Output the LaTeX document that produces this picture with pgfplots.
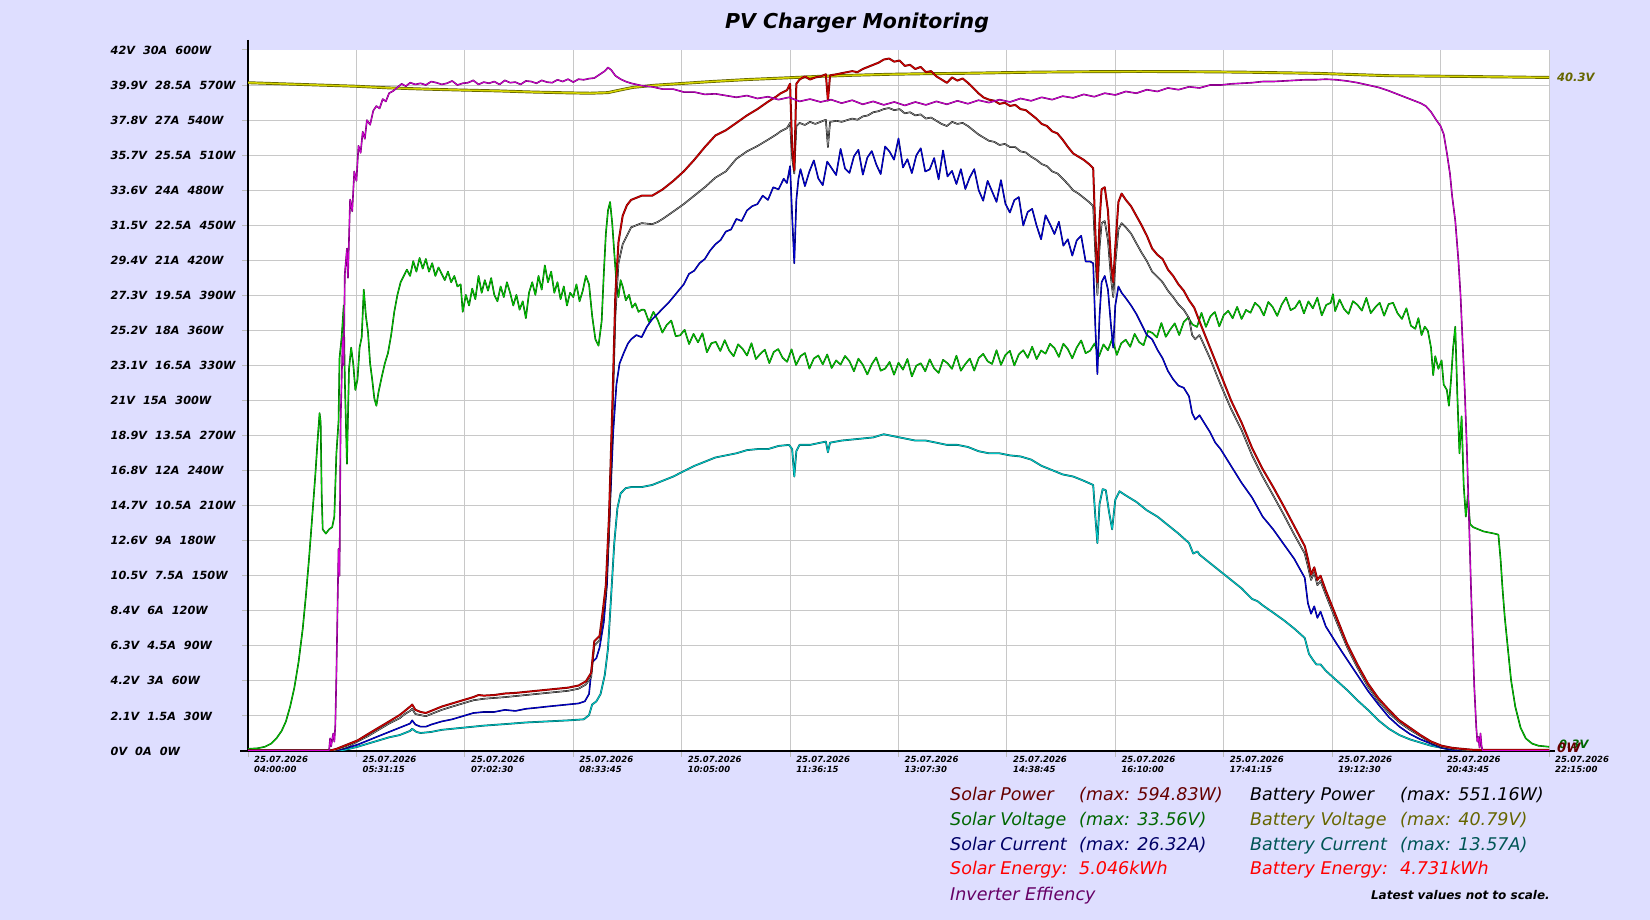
\documentclass[border=0pt]{standalone}
\usepackage{pgfplots}
\pgfplotsset{compat=1.18}
\usepackage{fontspec}
\setmainfont{DejaVu Sans}
\definecolor{bgc}{RGB}{222,222,255}
\definecolor{gridc}{RGB}{200,200,200}
\definecolor{tickc}{RGB}{185,185,185}
\definecolor{spE}{RGB}{110,0,0}\definecolor{spC}{RGB}{215,0,0}
\definecolor{bpE}{RGB}{0,0,0}\definecolor{bpC}{RGB}{150,150,150}
\definecolor{svE}{RGB}{0,90,0}\definecolor{svC}{RGB}{0,200,0}
\definecolor{bvE}{RGB}{90,90,0}\definecolor{bvC}{RGB}{215,215,0}
\definecolor{siE}{RGB}{0,0,100}\definecolor{siC}{RGB}{0,0,215}
\definecolor{biE}{RGB}{0,90,90}\definecolor{biC}{RGB}{0,200,200}
\definecolor{efE}{RGB}{100,0,100}\definecolor{efC}{RGB}{210,0,210}
\definecolor{tSP}{RGB}{102,0,0}
\definecolor{tSV}{RGB}{0,102,0}
\definecolor{tBV}{RGB}{102,102,0}
\definecolor{tSI}{RGB}{0,0,102}
\definecolor{tBI}{RGB}{0,85,85}
\definecolor{tEF}{RGB}{102,0,102}
\definecolor{tEN}{RGB}{255,0,0}
\newcommand{\yl}[3]{#1V\hspace{8pt}#2A\hspace{8pt}#3W}
\newcommand{\xl}[1]{25.07.2026\\#1}
\begin{document}
\begin{tikzpicture}
\useasboundingbox (0pt,0pt) rectangle (1650pt,920pt);
\fill[bgc] (0pt,0pt) rectangle (1650pt,920pt);
\begin{axis}[
  at={(248pt,169pt)}, anchor=south west, scale only axis,
  width=1301pt, height=701pt,
  xmin=4, xmax=22.25, ymin=0, ymax=600,
  axis background/.style={fill=white},
  axis line style={draw=none},
  clip mode=individual,
  grid=major, major grid style={gridc, line width=1pt},
  tick pos=left, tick align=outside, major tick length=6pt,
  tick style={tickc, line width=1pt},
  xtick={4,5.520833,7.041667,8.5625,10.083333,11.604167,13.125,14.645833,16.166667,17.6875,19.208333,20.729167,22.25},
  xticklabels={{\xl{04:00:00}},{\xl{05:31:15}},{\xl{07:02:30}},{\xl{08:33:45}},{\xl{10:05:00}},{\xl{11:36:15}},{\xl{13:07:30}},{\xl{14:38:45}},{\xl{16:10:00}},{\xl{17:41:15}},{\xl{19:12:30}},{\xl{20:43:45}},{\xl{22:15:00}}},
  ytick={0,30,...,570},
  yticklabels={{\yl{0}{0}{0}},{\yl{2.1}{1.5}{30}},{\yl{4.2}{3}{60}},{\yl{6.3}{4.5}{90}},{\yl{8.4}{6}{120}},{\yl{10.5}{7.5}{150}},{\yl{12.6}{9}{180}},{\yl{14.7}{10.5}{210}},{\yl{16.8}{12}{240}},{\yl{18.9}{13.5}{270}},{\yl{21}{15}{300}},{\yl{23.1}{16.5}{330}},{\yl{25.2}{18}{360}},{\yl{27.3}{19.5}{390}},{\yl{29.4}{21}{420}},{\yl{31.5}{22.5}{450}},{\yl{33.6}{24}{480}},{\yl{35.7}{25.5}{510}},{\yl{37.8}{27}{540}},{\yl{39.9}{28.5}{570}}},
  extra y ticks={600}, extra y tick labels={{\yl{42}{30}{600}}},
  extra y tick style={grid=none},
  yticklabel style={anchor=west, inner sep=0pt, xshift=-131.5pt, font=\fontsize{11.25}{12.5}\selectfont\bfseries\itshape},
  xticklabel style={anchor=north west, inner sep=0pt, xshift=6pt, yshift=1pt, align=left, font=\fontsize{8.5}{10}\selectfont\bfseries\itshape},
  every axis plot/.append style={line join=round, line cap=round},
]
% axis frame
\draw[line width=2.5pt, black] ([yshift=10pt]rel axis cs:0,1) -- (rel axis cs:0,0);
\draw[line width=2.5pt, black] ([xshift=-8pt]rel axis cs:0,0) -- ([xshift=6pt]rel axis cs:1,0);
\draw[line width=1pt, gridc] (rel axis cs:1,0) -- (rel axis cs:1,1);

% Battery Voltage
\addplot[draw=bvE, double=bvC, line width=0.7pt, double distance=1.5pt] coordinates {
(4.0,572) (4.5,571) (5.0,570) (5.5,569) (6.0,567.5) (6.5,566.5) (7.0,565.7) (7.5,565) (8.0,564) (8.5,563.3) (8.8,563) (9.05,563.5) (9.2,565.5) (9.4,568) (9.7,569.8) (10.0,571) (10.5,573) (11.0,574.7) (11.5,576) (12.0,577.4) (12.5,578.4) (13.0,579.2) (13.5,579.7) (14.0,580) (14.5,580.5) (15.0,581) (15.5,581.3) (16.0,581.5) (16.5,581.6) (17.0,581.5) (17.5,581.3) (18.0,581) (18.5,580.5) (19.0,580) (19.5,579) (20.0,578) (20.5,577.7) (21.0,577.4) (21.5,577) (22.25,576.5)
};

% Solar Voltage
\addplot[draw=svE, double=svC, line width=0.4pt, double distance=0.8pt] coordinates {
(4.0,1.8) (4.133,2.3) (4.236,3.6) (4.325,6.3) (4.399,10.8) (4.472,17.2) (4.532,25.3) (4.591,38.0) (4.650,54.2) (4.709,75.9) (4.768,104.8) (4.812,132.8) (4.856,164.5) (4.901,200.6) (4.945,236.7) (4.974,263.9) (5.004,289.2) (5.019,281.9) (5.034,218.7) (5.048,189.7) (5.093,186.1) (5.137,189.7) (5.181,191.6) (5.211,200.6) (5.240,254.8) (5.270,281.9) (5.284,336.1) (5.314,354.2) (5.343,381.3) (5.358,318.1) (5.388,245.8) (5.417,327.1) (5.447,345.2) (5.476,331.6) (5.506,309.0) (5.536,318.1) (5.565,345.2) (5.595,354.2) (5.624,394.9) (5.654,372.3) (5.683,358.7) (5.713,331.6) (5.742,318.1) (5.772,301.8) (5.801,295.5) (5.831,307.2) (5.875,319.9) (5.919,331.6) (5.964,340.7) (6.008,356.0) (6.052,375.9) (6.096,390.4) (6.141,401.2) (6.185,406.6) (6.229,412.0) (6.274,406.6) (6.318,419.3) (6.362,410.3) (6.407,422.0) (6.451,412.9) (6.495,421.1) (6.539,410.3) (6.584,417.5) (6.628,406.6) (6.672,413.9) (6.717,408.4) (6.761,403.0) (6.805,410.3) (6.850,401.2) (6.894,406.6) (6.938,397.6) (6.983,399.4) (7.012,375.9) (7.056,390.4) (7.101,381.3) (7.145,395.8) (7.189,386.7) (7.234,406.6) (7.278,392.2) (7.322,403.0) (7.367,394.0) (7.411,404.8) (7.455,390.4) (7.499,384.9) (7.544,397.6) (7.588,388.5) (7.632,401.2) (7.677,392.2) (7.721,381.3) (7.765,390.4) (7.810,377.7) (7.854,384.9) (7.898,370.5) (7.942,392.2) (7.987,401.2) (8.031,390.4) (8.075,406.6) (8.120,394.9) (8.164,415.6) (8.208,401.2) (8.253,410.3) (8.297,392.2) (8.341,401.2) (8.385,386.7) (8.430,397.6) (8.474,381.3) (8.518,392.2) (8.563,388.5) (8.607,399.4) (8.651,384.9) (8.696,394.0) (8.740,406.6) (8.784,399.4) (8.828,372.3) (8.873,352.4) (8.917,346.9) (8.961,367.8) (8.991,408.4) (9.020,442.8) (9.050,462.6) (9.079,469.9) (9.109,451.8) (9.138,426.5) (9.168,401.2) (9.197,388.5) (9.227,403.0) (9.256,397.6) (9.300,385.8) (9.345,390.4) (9.389,379.5) (9.433,383.1) (9.478,375.9) (9.522,377.7)
(9.5625,377.6) (9.625,367.3) (9.6875,375.9) (9.75,368.5) (9.8125,358.1) (9.875,364.8) (9.9375,368.4) (10.0,355)
(10.0625,355.8) (10.125,360.5) (10.1875,348.3) (10.25,357) (10.3125,349.8) (10.375,357.5) (10.4375,341.3) (10.5,349)
(10.5625,350.2) (10.625,342.4) (10.6875,351.6) (10.75,342.8) (10.8125,337.9) (10.875,348.1) (10.9375,344.3) (11.0,338.5)
(11.0625,349) (11.125,335.5) (11.1875,340) (11.25,343.5) (11.3125,332) (11.375,341.5) (11.4375,344) (11.5,336.5)
(11.5625,333.1) (11.625,343.8) (11.6875,330.4) (11.75,338) (11.8125,340.6) (11.875,327.3) (11.9375,335.9) (12.0,338.5)
(12.0625,330.9) (12.125,339.4) (12.1875,327.8) (12.25,334.3) (12.3125,330.7) (12.375,338.1) (12.4375,333.6) (12.5,325)
(12.5625,335.8) (12.625,330.5) (12.6875,322.3) (12.75,331) (12.8125,336.8) (12.875,325.5) (12.9375,327.3) (13.0,333)
(13.0625,322.1) (13.125,332.3) (13.1875,326.4) (13.25,335.5) (13.3125,320.6) (13.375,329.8) (13.4375,331.9) (13.5,325)
(13.5625,335.2) (13.625,327.4) (13.6875,323.6) (13.75,334.8) (13.8125,331.9) (13.875,327.1) (13.9375,338.3) (14.0,325.5)
(14.0625,331.2) (14.125,335.9) (14.1875,325.6) (14.25,336.3) (14.3125,339.9) (14.375,333.6) (14.4375,331.3) (14.5,343)
(14.5625,330.5) (14.625,339) (14.6875,342.5) (14.75,330) (14.8125,339.5) (14.875,343) (14.9375,336.5) (15.0,346)
(15.0625,335.4) (15.125,342.8) (15.1875,340.1) (15.25,348.5) (15.3125,344.9) (15.375,337.3) (15.4375,348.6) (15.5,344)
(15.5625,336.1) (15.625,345.3) (15.6875,351.4) (15.75,340.5) (15.8125,342.6) (15.875,348.8) (15.9375,337.9) (16.0,348)
(16.0625,343) (16.125,353) (16.1875,339) (16.25,349) (16.3125,352) (16.375,346) (16.4375,357) (16.5,350)
(16.5625,347.3) (16.625,359.5) (16.6875,357.8) (16.75,354) (16.8125,366.3) (16.875,354.5) (16.9375,360.8) (17.0,366)
(17.0625,356) (17.125,367) (17.1875,371) (17.25,365) (17.3125,363) (17.375,375) (17.4375,363) (17.5,372)
(17.5625,375.7) (17.625,363.4) (17.6875,373.1) (17.75,376.8) (17.8125,370.4) (17.875,380.1) (17.9375,369.8) (18.0,377.5)
(18.0625,375.1) (18.125,383.6) (18.1875,380.2) (18.25,372.8) (18.3125,384.3) (18.375,379.9) (18.4375,372.4) (18.5,382)
(18.5625,388.1) (18.625,377.3) (18.6875,379.4) (18.75,385.5) (18.8125,374.6) (18.875,384.8) (18.9375,378.9) (19.0,388)
(19.0625,372.9) (19.125,381.8) (19.1875,383.6) (19.22,391) (19.25,376.5) (19.3125,386.4) (19.375,378.3) (19.4375,374.1) (19.5,385)
(19.5625,381.9) (19.625,376.9) (19.6875,387.8) (19.75,374.8) (19.8125,379.7) (19.875,383.6) (19.9375,372.6) (20.0,382.5)
(20.0625,383.6) (20.125,374.7) (20.1875,369.8) (20.25,378.9) (20.3125,364)
(20.374,361.4) (20.418,370.5) (20.462,356.0) (20.507,363.2) (20.551,359.6) (20.595,345.2) (20.625,321.7) (20.654,337.9) (20.698,327.1) (20.743,334.3) (20.773,313.6) (20.817,309.0) (20.846,295.5) (20.876,318.1) (20.905,345.2) (20.935,363.2) (20.964,304.5) (20.994,254.8) (21.024,286.4) (21.053,227.7) (21.083,200.6) (21.112,218.7) (21.142,194.3) (21.186,191.6) (21.260,189.7) (21.334,187.9) (21.407,187.0) (21.481,186.1) (21.540,185.2) (21.570,164.5) (21.600,137.3) (21.629,114.8) (21.673,87.7) (21.718,60.5) (21.777,37.9) (21.851,19.9) (21.924,10.8) (22.013,6.3) (22.102,4.5) (22.25,3.6)
};

% Battery Current
\addplot[draw=biE, double=biC, line width=0.45pt, double distance=0.9pt] coordinates {
(4.0,0.3) (5.314,0.3) (5.536,3.6) (5.683,6.3) (5.831,9.0) (5.979,11.7) (6.126,13.6) (6.274,17.2) (6.303,19.0) (6.362,16.3) (6.421,15.4) (6.569,16.3) (6.717,18.1) (7.012,19.9) (7.307,21.7) (7.603,23.0) (7.898,24.4) (8.193,25.3) (8.489,26.2) (8.710,27.1) (8.784,30.7) (8.828,39.8) (8.887,42.5) (8.946,48.8) (9.005,65.1) (9.050,87.7) (9.094,132.8) (9.138,178.0) (9.182,207.8) (9.227,220.5) (9.300,225.0) (9.374,225.9) (9.522,225.9) (9.670,227.7) (9.817,231.3) (9.965,234.9) (10.113,239.5) (10.260,244.0) (10.408,247.6) (10.556,251.2) (10.703,253.0) (10.851,254.8) (10.999,257.5) (11.146,258.4) (11.294,258.4) (11.442,261.1) (11.589,262.0) (11.633,258.4) (11.663,234.9) (11.692,256.6) (11.737,262.0) (11.884,262.0) (12.032,263.9) (12.106,264.8) (12.135,255.7) (12.165,263.9) (12.327,265.7) (12.475,266.6) (12.623,267.5) (12.770,268.4) (12.918,271.1) (13.066,269.3) (13.213,267.5) (13.361,265.7) (13.509,265.7) (13.656,263.9) (13.804,262.0) (13.951,262.0) (14.099,260.2) (14.247,256.6) (14.394,254.8) (14.542,254.8) (14.690,253.0) (14.837,252.1) (14.985,249.4) (15.133,244.0) (15.280,240.4) (15.428,236.7) (15.576,234.9) (15.723,231.3) (15.856,227.7) (15.886,200.6) (15.915,178.0) (15.945,211.4) (15.989,224.1) (16.033,223.2) (16.077,205.1) (16.122,189.7) (16.166,215.0) (16.225,222.3) (16.314,218.7) (16.461,213.2) (16.609,206.0) (16.757,200.6) (16.904,193.4) (17.052,186.1) (17.200,178.0) (17.259,169.0) (17.318,170.8) (17.347,168.1) (17.495,160.8) (17.643,153.6) (17.790,146.4) (17.938,139.2) (18.085,130.1) (18.159,128.3) (18.233,124.7) (18.381,118.4) (18.528,112.0) (18.676,104.8) (18.824,96.7) (18.883,83.1) (18.942,77.7) (18.986,74.1) (19.045,74.1) (19.119,68.7) (19.267,60.5) (19.414,52.4) (19.562,43.4) (19.710,35.2) (19.857,26.2) (20.005,19.0) (20.152,13.6) (20.300,9.9) (20.448,7.2) (20.595,4.5) (20.743,2.7) (20.891,0.9) (21.038,0.3) (22.25,0.3)
};

% Solar Current
\addplot[draw=siE, double=siC, line width=0.4pt, double distance=0.8pt] coordinates {
(4.0,0.3) (5.240,0.3) (5.388,2.7) (5.536,5.4) (5.683,9.0) (5.831,12.7) (5.979,16.3) (6.126,19.9) (6.200,21.7) (6.274,23.5) (6.303,26.2) (6.348,22.6) (6.421,20.8) (6.495,20.8) (6.569,22.6) (6.717,25.3) (6.864,27.1) (7.012,29.8) (7.160,32.5) (7.307,33.4) (7.455,33.4) (7.603,35.2) (7.750,34.3) (7.898,36.1) (8.046,37.0) (8.193,38.0) (8.341,38.9) (8.489,39.8) (8.636,40.7) (8.725,42.5) (8.784,48.8) (8.828,75.9) (8.887,79.5) (8.932,88.6) (8.991,110.2) (9.035,141.9) (9.079,209.6) (9.123,272.9) (9.168,313.6) (9.212,331.6) (9.271,340.7) (9.330,348.8) (9.374,352.4) (9.448,356.0) (9.522,354.2) (9.596,363.2) (9.670,369.6) (9.744,374.1) (9.817,378.6) (9.891,383.1) (9.965,388.5) (10.039,394.0) (10.113,399.4) (10.186,408.4) (10.260,411.1) (10.334,417.5) (10.408,421.1) (10.482,428.3) (10.556,433.7) (10.629,437.3) (10.703,444.6) (10.777,446.4) (10.851,455.4) (10.925,453.6) (10.999,462.6) (11.072,466.3) (11.146,468.1) (11.220,475.3) (11.294,471.7) (11.368,482.5) (11.442,480.7) (11.515,489.8) (11.560,486.1) (11.604,500.6) (11.633,458.1) (11.663,417.5) (11.692,471.7) (11.722,489.8)
(11.75,498) (11.8125,483.5) (11.875,496) (11.9375,505.5) (12.0,490)
(12.0625,484.3) (12.125,504.5) (12.1875,498.8) (12.25,493) (12.3125,515.3) (12.375,498.5) (12.4375,494.8) (12.5,509)
(12.5625,514.6) (12.625,493.3) (12.6875,507.9) (12.75,513.5) (12.8125,502.1) (12.875,493.8) (12.9375,517.4) (13.0,513)
(13.0625,506.1) (13.125,524.3) (13.1875,499.4) (13.25,506.5) (13.3125,494.6) (13.375,509.8) (13.4375,515.9) (13.5,496)
(13.5625,497.8) (13.625,507.5) (13.6875,489.3) (13.75,514) (13.8125,491.8) (13.875,496.5) (13.9375,485.3) (14.0,498)
(14.0625,481) (14.125,491) (14.1875,498) (14.25,480) (14.3125,471) (14.375,488) (14.4375,479) (14.5,470)
(14.5625,488.6) (14.625,468.3) (14.6875,460.9) (14.75,471.5) (14.8125,474.1) (14.875,449.8) (14.9375,461.4) (15.0,464)
(15.0625,449.5) (15.125,438) (15.1875,458.5) (15.25,451) (15.3125,442.5) (15.375,453) (15.4375,432.5) (15.5,438)
(15.5625,424) (15.625,437) (15.6875,441) (15.75,419) (15.8125,419)
(15.856,417.5) (15.886,363.2) (15.915,322.6) (15.945,372.3) (15.974,401.2) (16.018,406.6) (16.063,394.9) (16.107,363.2) (16.137,345.2) (16.166,381.3) (16.210,397.6) (16.255,392.2) (16.314,387.6) (16.388,381.3) (16.461,374.1) (16.535,365.1) (16.609,356.0) (16.683,352.4) (16.757,343.4) (16.830,336.1) (16.904,325.3) (16.978,318.1) (17.052,312.7) (17.126,310.9) (17.200,303.6) (17.244,289.2) (17.288,283.7) (17.347,287.4) (17.421,280.1) (17.495,272.9) (17.569,263.9) (17.643,258.4) (17.790,244.0) (17.938,229.5) (18.085,216.9) (18.233,200.6) (18.381,189.7) (18.528,177.1) (18.676,164.5) (18.824,148.2) (18.868,126.5) (18.912,117.5) (18.957,123.8) (19.001,113.9) (19.045,119.3) (19.119,106.6) (19.267,92.2) (19.414,78.6) (19.562,65.1) (19.710,51.5) (19.857,39.8) (20.005,28.9) (20.152,20.8) (20.300,14.5) (20.448,9.9) (20.595,6.3) (20.743,2.7) (20.891,0.9) (21.038,0.5) (22.25,0.5)
};

% Battery Power
\addplot[draw=bpE, double=bpC, line width=0.45pt, double distance=0.7pt] coordinates {
(4.0,0.4) (5.211,0.4) (5.388,3.6) (5.536,8.1) (5.683,12.7) (5.831,18.1) (5.979,23.5) (6.126,28.0) (6.200,31.6) (6.274,34.3) (6.303,36.1) (6.348,31.6) (6.421,30.7) (6.495,29.8) (6.569,31.6) (6.717,35.2) (6.864,38.0) (7.012,40.7) (7.160,43.4) (7.307,44.7) (7.603,46.1) (7.898,47.9) (8.193,49.7) (8.489,51.5) (8.636,53.3) (8.740,56.9) (8.814,63.3) (8.858,90.4) (8.932,94.9) (8.976,114.8) (9.020,135.5) (9.064,187.0) (9.109,277.4) (9.153,372.3) (9.197,417.5) (9.256,433.7) (9.315,440.9) (9.374,448.2) (9.522,451.8) (9.670,450.9) (9.744,452.7) (9.817,455.4) (9.965,461.7) (10.113,468.1) (10.260,475.3) (10.408,482.5) (10.556,490.7) (10.703,496.1) (10.851,506.9) (10.999,513.2) (11.146,517.8) (11.294,523.2) (11.412,527.7) (11.471,530.4) (11.560,533.1) (11.604,537.6) (11.633,507.8) (11.663,494.3) (11.678,516.9) (11.692,534.9) (11.737,537.6) (11.811,535.8) (11.884,538.5) (11.958,536.7) (12.032,538.5) (12.106,540.3) (12.135,516.9) (12.165,538.5) (12.254,539.4) (12.327,538.5) (12.475,541.3) (12.549,540.3) (12.623,543.1) (12.696,544.0) (12.770,546.7) (12.844,547.6) (12.918,549.4) (12.992,550.3) (13.066,548.5) (13.140,549.4) (13.213,545.8) (13.287,546.7) (13.361,544.0) (13.435,544.9) (13.509,541.3) (13.582,542.2) (13.656,539.4) (13.730,536.7) (13.804,534.9) (13.877,538.5) (13.951,536.7) (14.025,537.6) (14.099,534.9) (14.173,531.3) (14.247,527.7) (14.320,525.0) (14.394,522.3) (14.468,521.4) (14.542,518.7) (14.616,519.6) (14.690,516.9) (14.763,516.9) (14.837,513.2) (14.911,512.3) (14.985,508.7) (15.059,506.0) (15.133,502.4) (15.206,500.6) (15.280,496.1) (15.354,494.3) (15.428,489.8) (15.502,485.2) (15.576,479.8) (15.649,477.1) (15.723,473.5) (15.797,469.9) (15.856,466.3) (15.886,426.5) (15.915,390.4) (15.945,431.0) (15.974,451.8) (16.018,453.6) (16.063,437.3) (16.107,403.9) (16.137,388.5) (16.166,417.5) (16.210,446.4) (16.255,451.8) (16.314,448.2) (16.388,442.8) (16.461,434.6) (16.535,426.5) (16.609,419.3) (16.683,410.3) (16.757,405.7) (16.830,401.2) (16.904,394.0) (16.978,388.5) (17.052,382.2) (17.126,377.7) (17.200,370.5) (17.244,356.0) (17.288,352.4) (17.347,356.0) (17.495,336.1) (17.643,313.6) (17.790,292.8) (17.938,274.7) (18.085,253.0) (18.233,234.9) (18.381,218.7) (18.528,202.4) (18.676,185.2) (18.824,169.0) (18.868,158.1) (18.912,146.4) (18.957,152.7) (19.001,141.9) (19.045,145.5) (19.119,133.7) (19.267,111.1) (19.414,89.5) (19.562,71.4) (19.710,55.1) (19.857,42.5) (20.005,32.5) (20.152,24.4) (20.300,18.1) (20.448,12.7) (20.595,7.2) (20.743,3.6) (20.891,1.8) (21.038,0.9) (21.186,0.4) (22.25,0.4)
};

% Solar Power
\addplot[draw=spE, double=spC, line width=0.55pt, double distance=0.9pt] coordinates {
(4.0,0.6) (5.166,0.6) (5.240,1.8) (5.388,5.4) (5.536,9.0) (5.683,14.5) (5.831,19.9) (5.979,25.3) (6.126,30.7) (6.200,34.3) (6.274,38.0) (6.303,39.8) (6.348,35.2) (6.421,33.4) (6.495,32.5) (6.569,34.3) (6.717,38.0) (6.864,40.7) (7.012,43.4) (7.160,46.1) (7.234,47.9) (7.307,47.4) (7.455,47.9) (7.603,49.2) (7.750,49.7) (7.898,50.6) (8.046,51.5) (8.193,52.4) (8.341,53.3) (8.489,54.2) (8.636,56.0) (8.740,59.6) (8.814,66.9) (8.858,94.0) (8.932,98.5) (8.976,119.3) (9.020,141.9) (9.064,200.6) (9.109,291.0) (9.153,390.4) (9.197,435.5) (9.256,458.1) (9.315,467.1) (9.374,471.7) (9.522,475.3) (9.670,475.3) (9.744,478.0) (9.817,480.7) (9.965,487.9) (10.113,496.1) (10.260,506.0) (10.408,516.9) (10.556,526.8) (10.703,531.3) (10.851,537.6) (10.999,544.0) (11.146,549.4) (11.294,555.7) (11.412,560.2) (11.471,562.9) (11.560,565.6) (11.604,571.1) (11.633,516.9) (11.663,497.0) (11.678,534.9) (11.692,571.1) (11.737,574.7) (11.811,577.4) (11.884,574.7) (11.958,576.5) (12.032,577.4) (12.106,579.2) (12.135,556.6) (12.165,578.3) (12.254,579.2) (12.327,580.1) (12.475,581.9) (12.549,581.0) (12.623,583.7) (12.696,585.5) (12.770,587.3) (12.844,589.1) (12.918,591.8) (12.992,592.7) (13.066,590.0) (13.140,591.0) (13.213,586.4) (13.287,587.3) (13.361,583.7) (13.435,585.5) (13.509,581.0) (13.582,581.9) (13.656,577.4) (13.730,574.7) (13.804,571.9) (13.877,576.5) (13.951,573.8) (14.025,575.6) (14.099,571.9) (14.173,567.5) (14.247,562.9) (14.320,559.3) (14.394,557.5) (14.468,556.6) (14.542,553.9) (14.616,554.8) (14.690,552.1) (14.763,553.0) (14.837,549.4) (14.911,548.5) (14.985,544.9) (15.059,541.3) (15.133,536.7) (15.206,535.0) (15.280,530.4) (15.354,528.6) (15.428,523.2) (15.502,516.9) (15.576,511.4) (15.649,508.7) (15.723,506.0) (15.797,502.4) (15.856,498.8) (15.886,444.6) (15.915,401.2) (15.945,453.6) (15.974,480.7) (16.018,482.5) (16.063,462.6) (16.107,417.5) (16.137,401.2) (16.166,431.0) (16.210,469.9) (16.255,477.1) (16.314,471.7) (16.388,466.2) (16.461,458.1) (16.535,450.0) (16.609,441.0) (16.683,430.1) (16.757,424.7) (16.830,421.1) (16.904,412.1) (16.978,406.6) (17.052,399.4) (17.126,394.0) (17.200,385.8) (17.273,379.5) (17.347,367.8) (17.495,345.2) (17.643,322.6) (17.790,300.0) (17.938,281.0) (18.085,259.3) (18.233,241.3) (18.381,225.9) (18.528,209.6) (18.676,192.5) (18.824,175.3) (18.868,164.5) (18.912,150.9) (18.957,157.2) (19.001,146.4) (19.045,150.0) (19.119,137.3) (19.267,114.8) (19.414,92.2) (19.562,74.1) (19.710,57.8) (19.857,45.2) (20.005,35.2) (20.152,26.2) (20.300,19.9) (20.448,13.6) (20.595,8.1) (20.743,4.5) (20.891,2.7) (21.038,1.8) (21.186,1.0) (22.25,1.0)
};

% Inverter Efficiency
\addplot[draw=efE, double=efC, line width=0.4pt, double distance=0.8pt] coordinates {
(4.0,0.3) (5.137,0.3) (5.152,10.8) (5.166,4) (5.196,15) (5.211,8) (5.225,22) (5.240,65) (5.270,173) (5.284,150) (5.299,282) (5.329,354) (5.343,330) (5.358,408) (5.388,430) (5.402,405) (5.432,472) (5.462,462) (5.491,496) (5.521,488) (5.550,518) (5.580,512) (5.609,530) (5.639,524) (5.668,540) (5.713,536) (5.757,548) (5.801,552) (5.846,550) (5.890,558) (5.934,556) (5.979,563) (6.038,565) (6.096,568) (6.155,571) (6.215,569) (6.274,572) (6.348,570.5) (6.421,571.5) (6.495,570) (6.569,573) (6.643,572) (6.717,570.5) (6.790,571.5) (6.864,573.5) (6.938,570) (7.012,571.5) (7.086,572) (7.160,574) (7.234,570.5) (7.307,572.5) (7.381,571.5) (7.455,573) (7.529,570.5) (7.603,574) (7.677,572) (7.750,572.5) (7.824,570.5) (7.898,573.5) (7.972,573) (8.046,571.5) (8.120,574) (8.193,572.5) (8.267,572) (8.341,574.5) (8.415,573) (8.489,575) (8.563,572.5) (8.636,575) (8.710,574.5) (8.784,575.5) (8.858,576) (8.932,579) (9.005,582) (9.050,585) (9.094,583) (9.153,578) (9.227,575) (9.300,573) (9.374,571.5) (9.522,569.5) (9.670,568.5) (9.817,566.5) (9.965,566.5) (10.113,564) (10.260,564) (10.408,562) (10.556,562.5) (10.703,561) (10.851,559.5) (10.999,561) (11.146,558.5) (11.294,560) (11.442,557.5) (11.589,559.5) (11.737,556) (11.884,558) (12.032,555.5) (12.180,557.5) (12.327,554.5) (12.475,557) (12.623,553.5) (12.770,556) (12.918,553) (13.066,555.5) (13.213,552.5) (13.361,555.5) (13.509,553) (13.656,556) (13.804,553.5) (13.951,556.5) (14.099,554) (14.247,557) (14.394,555) (14.542,557.5) (14.690,555.5) (14.837,558.5) (14.985,556.5) (15.133,559.5) (15.280,557.5) (15.428,560.5) (15.576,559) (15.723,562) (15.871,560) (16.018,563) (16.166,561.5) (16.314,564.5) (16.461,563) (16.609,566) (16.757,564.5) (16.904,567.5) (17.052,566) (17.200,568.5) (17.347,567.5) (17.495,570) (17.643,570) (17.790,571) (17.938,571.5) (18.085,572) (18.233,573) (18.381,573) (18.528,573.5) (18.676,574) (18.824,574.5) (18.971,574.5) (19.119,575) (19.267,574.5) (19.414,573.5) (19.562,572) (19.710,570) (19.857,568) (20.005,565) (20.152,561.5) (20.300,558) (20.448,554.5) (20.522,552) (20.595,547) (20.669,540) (20.728,535) (20.773,528) (20.817,512) (20.861,494) (20.891,475) (20.935,454) (20.979,420) (21.009,390) (21.038,350) (21.068,309) (21.097,260) (21.127,200) (21.157,137) (21.186,85) (21.201,56) (21.230,20) (21.245,8) (21.260,12) (21.275,3) (21.289,15) (21.304,4) (21.319,0.3) (22.25,0.3)
};
\end{axis}

% title
\node[anchor=base, font=\fontsize{20.5}{24}\selectfont\bfseries\itshape] at (857pt,891.5pt) {PV Charger Monitoring};

% right-hand latest values
\node[anchor=west, inner sep=0pt, text=tBV, font=\fontsize{11.5}{13}\selectfont\bfseries\itshape] at (1557pt,842.6pt) {40.3V};
\node[anchor=west, inner sep=0pt, text=tSV, font=\fontsize{11.5}{13}\selectfont\bfseries\itshape] at (1559pt,175.5pt) {0.3V};
\node[anchor=west, inner sep=0pt, text=tSP, font=\fontsize{13}{15}\selectfont\bfseries\itshape] at (1557pt,172pt) {0W};

% legend text
\begin{scope}[every node/.style={anchor=base west, inner sep=0pt, font=\fontsize{17.5}{20}\selectfont\itshape}]
\node[text=tSP] at (950pt,119pt) {Solar Power};
\node[text=tSP] at (1079pt,119pt) {(max: 594.83W)};
\node[text=black] at (1250pt,119pt) {Battery Power};
\node[text=black] at (1400pt,119pt) {(max: 551.16W)};
\node[text=tSV] at (950pt,94.5pt) {Solar Voltage};
\node[text=tSV] at (1079pt,94.5pt) {(max: 33.56V)};
\node[text=tBV] at (1250pt,94.5pt) {Battery Voltage};
\node[text=tBV] at (1400pt,94.5pt) {(max: 40.79V)};
\node[text=tSI] at (950pt,69.5pt) {Solar Current};
\node[text=tSI] at (1079pt,69.5pt) {(max: 26.32A)};
\node[text=tBI] at (1250pt,69.5pt) {Battery Current};
\node[text=tBI] at (1400pt,69.5pt) {(max: 13.57A)};
\node[text=tEN] at (950pt,45pt) {Solar Energy:};
\node[text=tEN] at (1079pt,45pt) {5.046kWh};
\node[text=tEN] at (1250pt,45pt) {Battery Energy:};
\node[text=tEN] at (1400pt,45pt) {4.731kWh};
\node[text=tEF] at (950pt,19.5pt) {Inverter Effiency};
\end{scope}
\node[anchor=base east, inner sep=0pt, font=\fontsize{12}{14}\selectfont\bfseries\itshape] at (1550pt,20pt) {Latest values not to scale.};
\end{tikzpicture}
\end{document}
